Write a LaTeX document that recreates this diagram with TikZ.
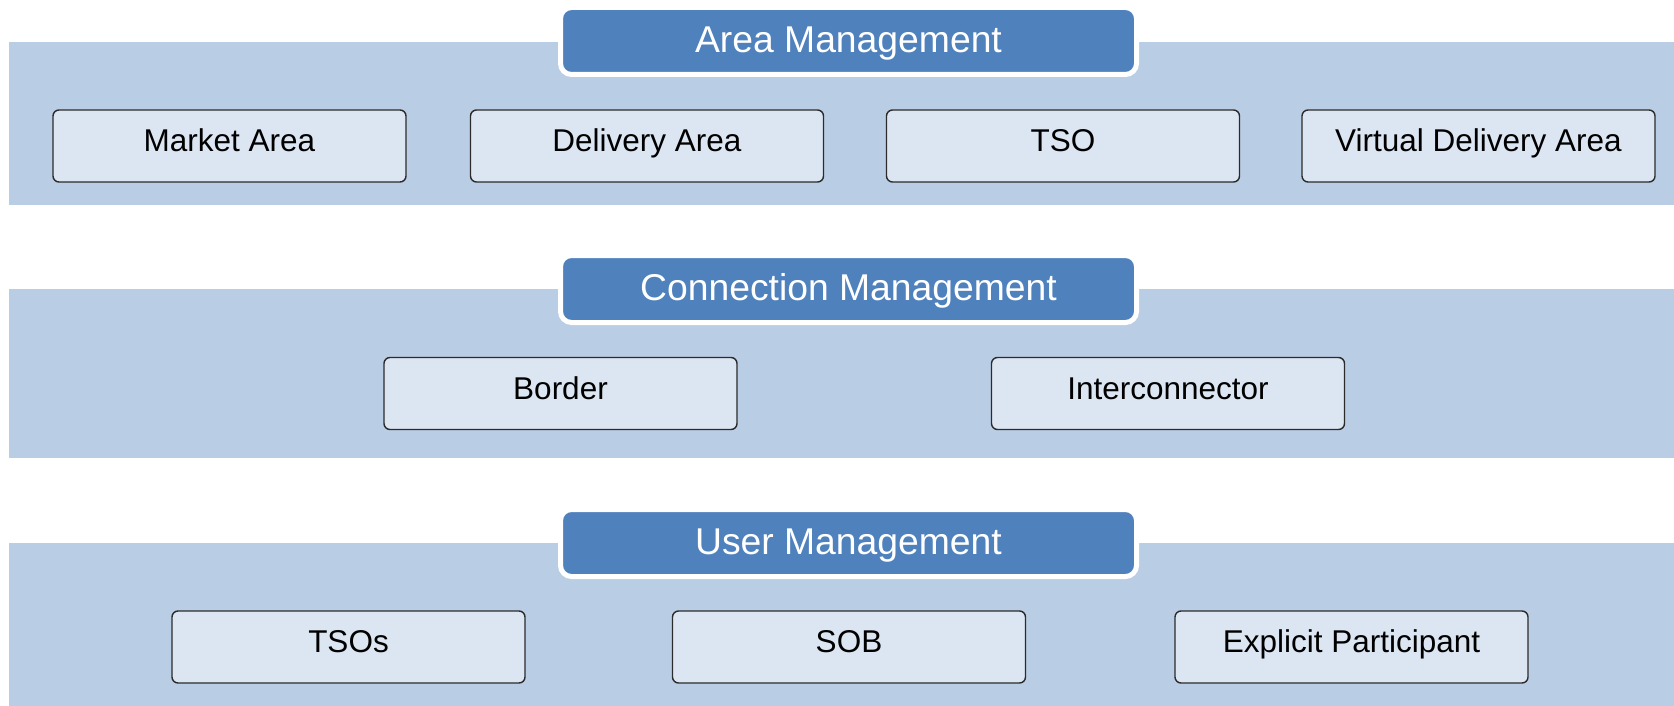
\documentclass[tikz,border=0pt]{standalone}
\usepackage{fontspec}
\setmainfont{Liberation Sans}
\definecolor{bandc}{HTML}{B9CDE5}
\definecolor{headc}{HTML}{4F81BD}
\definecolor{boxc}{HTML}{DCE6F2}
\definecolor{edgec}{HTML}{2B2B2B}
\tikzset{
  band/.style={fill=bandc, draw=none},
  header/.style={fill=headc, draw=white, line width=5pt, rounded corners=11pt, text=white,
    minimum width=576pt, minimum height=67pt, inner sep=0pt,
    text height=23.6pt, text depth=0pt, font=\fontsize{37.3}{42}\selectfont},
  itembox/.style={fill=boxc, draw=edgec, line width=1.4pt, rounded corners=6pt, text=black,
    minimum width=353pt, minimum height=72pt, inner sep=0pt,
    text height=11.4pt, text depth=0pt, font=\fontsize{31.5}{36}\selectfont}
}
\begin{document}
\begin{tikzpicture}[x=1pt,y=-1pt]
\useasboundingbox (0,0) rectangle (1674,706);
% bands
\path[band] (9,42) rectangle (1674,205);
\path[band] (9,289) rectangle (1674,458);
\path[band] (9,543) rectangle (1674,706);
% headers
\node[header] (h1) at (848.5,41) {Area Management};
\node[header] (h2) at (848.5,289) {Connection Management};
\node[header] (h3) at (848.5,543) {User Management};
% row 1
\node[itembox] (market) at (229.5,146) {Market Area};
\node[itembox] (delivery) at (647,146) {Delivery Area};
\node[itembox] (tso) at (1063,146) {TSO};
\node[itembox] (virtual) at (1478.5,146) {Virtual Delivery Area};
% row 2
\node[itembox] (border) at (560.5,393.5) {Border};
\node[itembox] (inter) at (1168,393.5) {Interconnector};
% row 3
\node[itembox] (tsos) at (348.5,647) {TSOs};
\node[itembox] (sob) at (849,647) {SOB};
\node[itembox] (explicit) at (1351.5,647) {Explicit Participant};
\end{tikzpicture}
\end{document}
